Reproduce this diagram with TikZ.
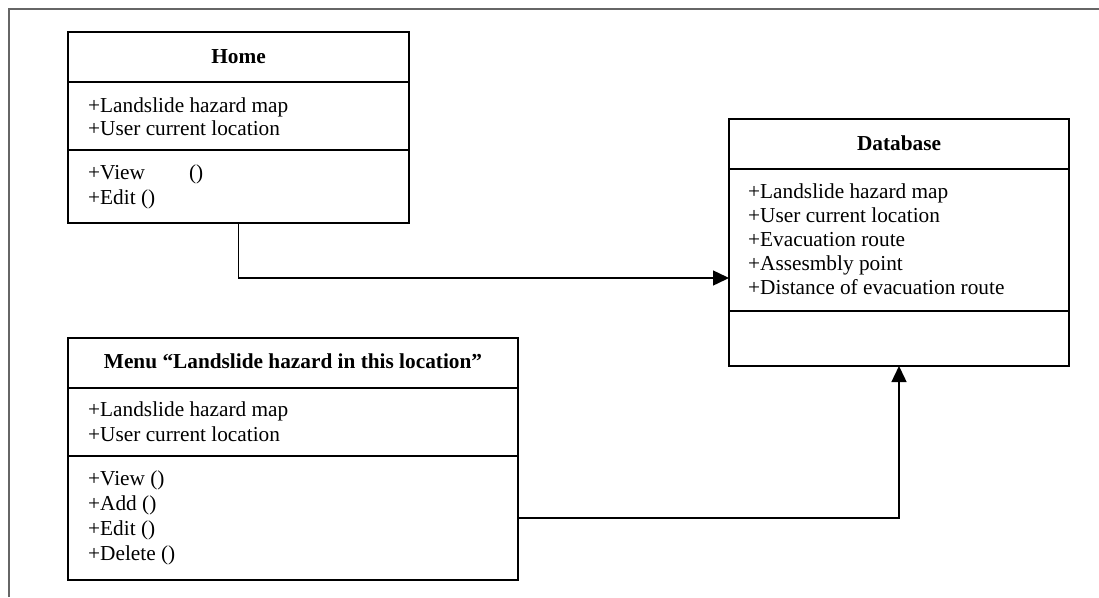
\documentclass[tikz,border=0pt]{standalone}
\usepackage{fontspec}
\setmainfont{Liberation Serif}
\usetikzlibrary{arrows.meta}
\begin{document}
\begin{tikzpicture}[x=1pt,y=-1pt,
  classbox/.style={draw=black, line width=2pt, inner sep=0pt, outer sep=0pt, anchor=north west},
  divider/.style={line width=2pt},
  classtitle/.style={font=\fontsize{21.3}{25}\selectfont\bfseries, anchor=base, inner sep=0pt},
  member/.style={font=\fontsize{21.3}{25}\selectfont, anchor=base west, inner sep=0pt},
  conn/.style={line width=1.4pt, -{Triangle[length=16pt,width=15pt]}},
  frame/.style={draw=black!60, line width=1.5pt}]
\useasboundingbox (0,0) rectangle (1099,597);
% page frame (top and left edges)
\draw[frame] (9,597) -- (9,9) -- (1099,9);

% ---- class Home ----
\node[classbox, minimum width=341pt, minimum height=191pt] (home) at (68,32) {};
\draw[divider] (home.west |- 0,82) -- (home.east |- 0,82);
\draw[divider] (home.west |- 0,150) -- (home.east |- 0,150);
\node[classtitle] (hometitle) at (238.5,63) {Home};
\node[member] (homea1) at (88,112.5) {+Landslide hazard map};
\node[member] (homea2) at (88,135.5) {+User current location};
\node[member] (homem1) at (88,179.5) {+View\hspace{44pt}()};
\node[member] (homem2) at (88,204) {+Edit ()};

% ---- class Database ----
\node[classbox, minimum width=340pt, minimum height=247pt] (db) at (729,119) {};
\draw[divider] (db.west |- 0,169) -- (db.east |- 0,169);
\draw[divider] (db.west |- 0,311) -- (db.east |- 0,311);
\node[classtitle] (dbtitle) at (899,150) {Database};
\node[member] (dba1) at (748,198.5) {+Landslide hazard map};
\node[member] (dba2) at (748,222) {+User current location};
\node[member] (dba3) at (748,246.5) {+Evacuation route};
\node[member] (dba4) at (748,270) {+Assesmbly point};
\node[member] (dba5) at (748,294) {+Distance of evacuation route};

% ---- class Menu ----
\node[classbox, minimum width=450pt, minimum height=242pt] (menu) at (68,338) {};
\draw[divider] (menu.west |- 0,388) -- (menu.east |- 0,388);
\draw[divider] (menu.west |- 0,456) -- (menu.east |- 0,456);
\node[classtitle] (menutitle) at (293,368) {Menu “Landslide hazard in this location”};
\node[member] (menua1) at (88,416.5) {+Landslide hazard map};
\node[member] (menua2) at (88,441) {+User current location};
\node[member] (menum1) at (88,485) {+View ()};
\node[member] (menum2) at (88,510) {+Add ()};
\node[member] (menum3) at (88,535) {+Edit ()};
\node[member] (menum4) at (88,560) {+Delete ()};

% ---- associations ----
\coordinate (dbin) at (db.west |- 0,278);
\coordinate (menuout) at (menu.east |- 0,518);
\draw[conn] (home.south) |- (dbin);
\draw[conn] (menuout) -| (db.south);
\end{tikzpicture}
\end{document}
